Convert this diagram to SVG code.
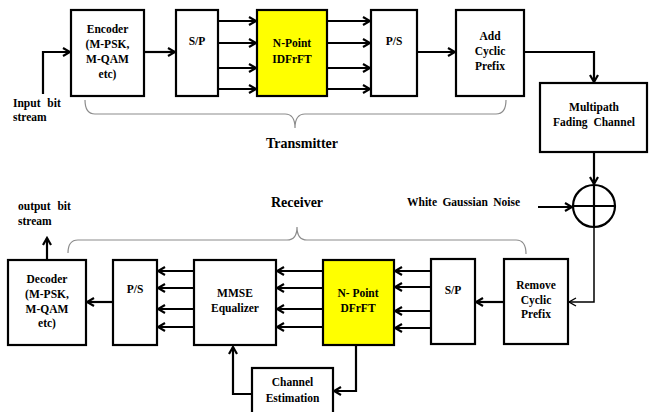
<svg xmlns="http://www.w3.org/2000/svg" width="649" height="412" viewBox="0 0 649 412">
<style>
.box{fill:#fff;stroke:#000;stroke-width:2.2}
.yel{fill:#ffff00;stroke:#000;stroke-width:2.2}
.t{font-family:"Liberation Serif","Times New Roman",serif;font-weight:bold;font-size:11.5px;fill:#000;text-anchor:middle}
.tl{font-family:"Liberation Serif","Times New Roman",serif;font-weight:bold;font-size:11.5px;fill:#000}
.big{font-family:"Liberation Serif","Times New Roman",serif;font-weight:bold;font-size:14px;fill:#000}
.ln{fill:none;stroke:#000;stroke-width:2.2}
.thin{fill:none;stroke:#000;stroke-width:1.5}
.brace{fill:none;stroke:#8c8c8c;stroke-width:1.2}
</style>
<defs>
<marker id="ah" viewBox="-1 -6 10 12" refX="7" refY="0" markerWidth="10" markerHeight="12" markerUnits="userSpaceOnUse" orient="auto">
<path d="M0,-4 L7,0 L0,4" fill="none" stroke="#000" stroke-width="2.2"/>
</marker>
<marker id="ahs" viewBox="-1 -6 10 12" refX="7" refY="0" markerWidth="10" markerHeight="12" markerUnits="userSpaceOnUse" orient="auto">
<path d="M0,-4 L7,0 L0,4" fill="none" stroke="#000" stroke-width="1.4"/>
</marker>
</defs>
<rect width="649" height="412" fill="#fff"/>

<g id="connectors">
<path class="ln" d="M43,94 V52 H70" marker-end="url(#ah)"/>
<path class="ln" d="M144,52 H175" marker-end="url(#ah)"/>
<path class="ln" d="M218,21 H256" marker-end="url(#ah)"/>
<path class="ln" d="M218,43 H256" marker-end="url(#ah)"/>
<path class="ln" d="M218,68 H256" marker-end="url(#ah)"/>
<path class="ln" d="M218,89 H256" marker-end="url(#ah)"/>
<path class="ln" d="M327,21 H370" marker-end="url(#ah)"/>
<path class="ln" d="M327,43 H370" marker-end="url(#ah)"/>
<path class="ln" d="M327,68 H370" marker-end="url(#ah)"/>
<path class="ln" d="M327,89 H370" marker-end="url(#ah)"/>
<path class="ln" d="M417,52 H455" marker-end="url(#ah)"/>
<path class="ln" d="M524,52 H594 V82" marker-end="url(#ah)"/>
<path class="ln" d="M594,152 V184" marker-end="url(#ah)"/>
<path class="ln" d="M538,207 H572" marker-end="url(#ah)"/>
<path class="thin" d="M594,227 V302 H569" marker-end="url(#ahs)"/>
<path class="ln" d="M504,302 H476" marker-end="url(#ah)"/>
<path class="ln" d="M431,271 H395" marker-end="url(#ah)"/>
<path class="ln" d="M431,287 H395" marker-end="url(#ah)"/>
<path class="ln" d="M431,311 H395" marker-end="url(#ah)"/>
<path class="ln" d="M431,328 H395" marker-end="url(#ah)"/>
<path class="ln" d="M323,271 H277" marker-end="url(#ah)"/>
<path class="ln" d="M323,288 H277" marker-end="url(#ah)"/>
<path class="ln" d="M323,309 H277" marker-end="url(#ah)"/>
<path class="ln" d="M323,327 H277" marker-end="url(#ah)"/>
<path class="ln" d="M194,271 H158" marker-end="url(#ah)"/>
<path class="ln" d="M194,288 H158" marker-end="url(#ah)"/>
<path class="ln" d="M194,309 H158" marker-end="url(#ah)"/>
<path class="ln" d="M194,327 H158" marker-end="url(#ah)"/>
<path class="ln" d="M113,302 H87" marker-end="url(#ah)"/>
<path class="ln" d="M47,260 V238" marker-end="url(#ah)"/>
<path class="ln" d="M356,345 V391 H334" marker-end="url(#ah)"/>
<path class="ln" d="M252,394 H233 V347" marker-end="url(#ah)"/>
</g>

<g id="braces">
<path class="brace" d="M85,100 Q85,114 95,114 L285,114 Q295,114 295,128 Q295,114 305,114 L496,114 Q506,114 506,100"/>
<path class="brace" d="M68,253 Q68,240 78,240 L287,240 Q297,240 297,227 Q297,240 307,240 L516,240 Q526,240 526,254"/>
</g>

<g id="input-label">
<text class="tl" x="13" y="107" word-spacing="4">Input bit</text>
<text class="tl" x="13" y="121">stream</text>
</g>
<g id="encoder">
<rect class="box" x="71" y="10" width="73" height="86"/>
<text class="t" x="107.5" y="33">Encoder</text>
<text class="t" x="107.5" y="48">(M-PSK,</text>
<text class="t" x="107.5" y="63">M-QAM</text>
<text class="t" x="107.5" y="78">etc)</text>
</g>
<g id="sp-tx">
<rect class="box" x="176" y="10" width="42" height="86"/>
<text class="t" x="197" y="45">S/P</text>
</g>
<g id="idfrft">
<rect class="yel" x="257" y="10" width="70" height="86"/>
<text class="t" x="292" y="47">N-Point</text>
<text class="t" x="292" y="63">IDFrFT</text>
</g>
<g id="ps-tx">
<rect class="box" x="371" y="10" width="46" height="86"/>
<text class="t" x="394" y="45">P/S</text>
</g>
<g id="add-cp">
<rect class="box" x="456" y="10" width="68" height="86"/>
<text class="t" x="490" y="40">Add</text>
<text class="t" x="490" y="55">Cyclic</text>
<text class="t" x="490" y="70">Prefix</text>
</g>
<g id="transmitter-label">
<text class="big" x="266" y="148">Transmitter</text>
</g>
<g id="multipath">
<rect class="box" x="540" y="83" width="107" height="69"/>
<text class="t" x="594" y="111">Multipath</text>
<text class="t" x="594" y="126" word-spacing="3">Fading Channel</text>
</g>
<g id="adder">
<circle cx="594" cy="206" r="21" fill="#fff" stroke="#000" stroke-width="2.2"/>
<path class="ln" d="M573,206 H615 M594,185 V227"/>
</g>
<g id="noise-label">
<text class="tl" x="407" y="206" word-spacing="2.5">White Gaussian Noise</text>
</g>
<g id="receiver-label">
<text class="big" x="271" y="207">Receiver</text>
</g>
<g id="remove-cp">
<rect class="box" x="504" y="259" width="64" height="85"/>
<text class="t" x="536" y="289">Remove</text>
<text class="t" x="536" y="304">Cyclic</text>
<text class="t" x="536" y="318">Prefix</text>
</g>
<g id="sp-rx">
<rect class="box" x="431" y="259" width="44" height="85"/>
<text class="t" x="453" y="294">S/P</text>
</g>
<g id="dfrft">
<rect class="yel" x="323" y="260" width="71" height="85"/>
<text class="t" x="358" y="297">N- Point</text>
<text class="t" x="358" y="312">DFrFT</text>
</g>
<g id="mmse">
<rect class="box" x="194" y="260" width="82" height="85"/>
<text class="t" x="235" y="297">MMSE</text>
<text class="t" x="235" y="312">Equalizer</text>
</g>
<g id="ps-rx">
<rect class="box" x="113" y="260" width="44" height="85"/>
<text class="t" x="135" y="293">P/S</text>
</g>
<g id="decoder">
<rect class="box" x="8" y="260" width="78" height="85"/>
<text class="t" x="47" y="283">Decoder</text>
<text class="t" x="47" y="298">(M-PSK,</text>
<text class="t" x="47" y="313">M-QAM</text>
<text class="t" x="47" y="327">etc)</text>
</g>
<g id="output-label">
<text class="tl" x="18" y="210" word-spacing="4">output bit</text>
<text class="tl" x="18" y="225">stream</text>
</g>
<g id="channel-est">
<rect class="box" x="252" y="368" width="81" height="50"/>
<text class="t" x="292.5" y="386">Channel</text>
<text class="t" x="292.5" y="402">Estimation</text>
</g>
</svg>
